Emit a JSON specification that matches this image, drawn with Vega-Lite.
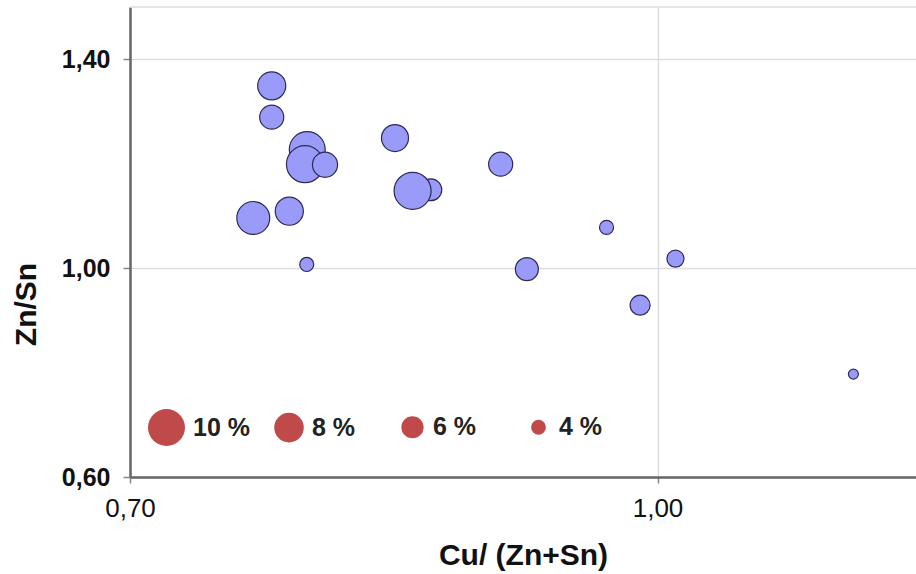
{
  "$schema": "https://vega.github.io/schema/vega-lite/v6.json",
  "autosize": "none",
  "width": 786,
  "height": 470,
  "padding": {"left": 130, "top": 7, "right": 0, "bottom": 97},
  "background": "white",
  "config": {"view": {"stroke": null}, "font": "Liberation Sans"},
  "resolve": {"legend": {"size": "independent"}},
  "datasets": {
    "points": [
      {"cu": 0.7806, "zn": 1.349, "pct": 7.6},
      {"cu": 0.7806, "zn": 1.289, "pct": 6.5},
      {"cu": 0.8008, "zn": 1.227, "pct": 9.7},
      {"cu": 0.7995, "zn": 1.199, "pct": 10.0},
      {"cu": 0.8109, "zn": 1.198, "pct": 6.8},
      {"cu": 0.7701, "zn": 1.096, "pct": 8.9},
      {"cu": 0.7906, "zn": 1.109, "pct": 7.6},
      {"cu": 0.8005, "zn": 1.007, "pct": 3.8},
      {"cu": 0.8507, "zn": 1.249, "pct": 7.3},
      {"cu": 0.8711, "zn": 1.150, "pct": 5.9},
      {"cu": 0.8607, "zn": 1.148, "pct": 10.0},
      {"cu": 0.9108, "zn": 1.199, "pct": 6.5},
      {"cu": 0.9257, "zn": 0.998, "pct": 6.2},
      {"cu": 0.9710, "zn": 1.078, "pct": 3.8},
      {"cu": 1.0102, "zn": 1.018, "pct": 4.6},
      {"cu": 0.9901, "zn": 0.929, "pct": 5.4},
      {"cu": 1.1114, "zn": 0.797, "pct": 2.7}
    ]
  },
  "layer": [
    {
      "data": {"name": "points"},
      "mark": {"type": "circle", "fill": "#9a9af8", "stroke": "#2b2b55", "strokeWidth": 1.2, "opacity": 1, "fillOpacity": 1},
      "encoding": {
        "x": {
          "field": "cu", "type": "quantitative",
          "scale": {"domain": [0.7, 1.147], "nice": false, "zero": false},
          "axis": {
            "values": [0.7, 1.0],
            "labelExpr": "replace(format(datum.value, '.2f'), '.', ',')",
            "labelFlush": false,
            "grid": true, "gridColor": "#dddddd", "gridWidth": 1.5,
            "domainColor": "#666666", "domainWidth": 2.5,
            "tickColor": "#888888", "tickSize": 6, "tickWidth": 1.5,
            "labelFontSize": 26, "labelColor": "#111111", "labelPadding": 12,
            "title": "Cu/ (Zn+Sn)", "titleFontSize": 30, "titleFontWeight": "bold",
            "titleColor": "#111111", "titleY": 78, "titleBaseline": "middle"
          }
        },
        "y": {
          "field": "zn", "type": "quantitative",
          "scale": {"domain": [0.6, 1.5], "nice": false, "zero": false},
          "axis": {
            "values": [0.6, 1.0, 1.4],
            "labelExpr": "replace(format(datum.value, '.2f'), '.', ',')",
            "labelFlush": false,
            "grid": true, "gridColor": "#dddddd", "gridWidth": 1.5,
            "domainColor": "#666666", "domainWidth": 2.5,
            "tickColor": "#888888", "tickSize": 7, "tickWidth": 1.5,
            "labelFontSize": 25, "labelFontWeight": "bold", "labelColor": "#111111", "labelPadding": 13,
            "title": "Zn/Sn", "titleFontSize": 30, "titleFontWeight": "bold",
            "titleColor": "#111111", "titleX": -104, "titleY": 297,
            "titleBaseline": "middle", "titleAlign": "center"
          }
        },
        "size": {
          "field": "pct", "type": "quantitative",
          "scale": {"type": "pow", "exponent": 2, "domain": [0, 10], "range": [0, 1369]},
          "legend": null
        }
      }
    },
    {
      "data": {"name": "points"},
      "transform": [{"filter": "false"}],
      "mark": {"type": "circle", "fill": "#c04a4a", "opacity": 1, "fillOpacity": 1, "strokeWidth": 0},
      "encoding": {
        "x": {"field": "cu", "type": "quantitative", "title": "Cu/ (Zn+Sn)"},
        "y": {"field": "zn", "type": "quantitative", "title": "Zn/Sn"},
        "size": {
          "field": "pct", "type": "quantitative",
          "legend": {
            "orient": "none", "legendX": 18, "legendY": 402,
            "direction": "horizontal", "values": [10, 8, 6, 4],
            "title": null, "padding": 0,
            "labelExpr": "datum.value + ' %'",
            "labelFontSize": 25, "labelFontWeight": "bold", "labelColor": "#222222",
            "labelOffset": 8, "columnPadding": 24, "gridAlign": "all",
            "symbolStrokeWidth": 0, "symbolOpacity": 1
          }
        }
      }
    },
    {
      "data": {"values": [{"top": 1.5}]},
      "mark": {"type": "rule", "color": "#dddddd", "strokeWidth": 1.5},
      "encoding": {
        "y": {"field": "top", "type": "quantitative", "title": "Zn/Sn"}
      }
    }
  ]
}
